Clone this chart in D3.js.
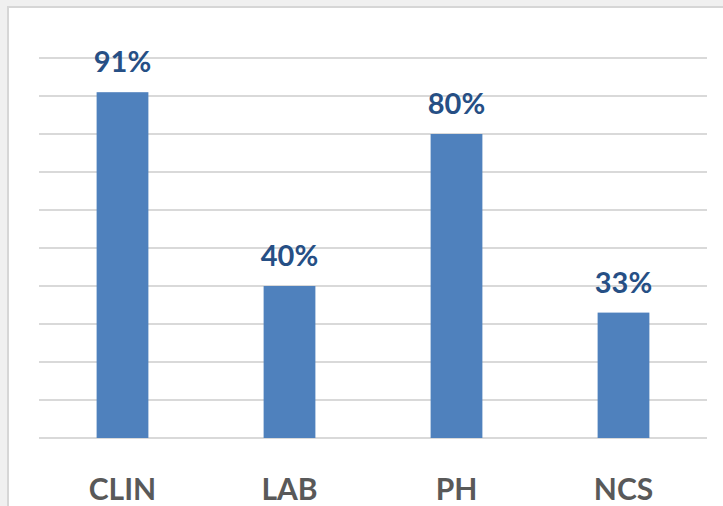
<!DOCTYPE html>
<html>
<head>
<meta charset="utf-8">
<script src="https://cdn.jsdelivr.net/npm/d3@7"></script>
<style>
  body { margin: 0; background: #f0f0f0; }
</style>
</head>
<body>
<div id="chart-area"></div>
<script>
var categories = ["CLIN", "LAB", "PH", "NCS"];
var values = [0.91, 0.40, 0.80, 0.33];
var gridTicks = [0, 0.1, 0.2, 0.3, 0.4, 0.5, 0.6, 0.7, 0.8, 0.9, 1.0];

var width = 723, height = 506;

var svg = d3.select("#chart-area")
	.append("svg")
		.attr("width", width)
		.attr("height", height)
		.style("display", "block");

// page frame
svg.append("rect")
	.attr("x", 0).attr("y", 0)
	.attr("width", width).attr("height", height)
	.attr("fill", "#f0f0f0");
svg.append("rect")
	.attr("x", 8).attr("y", 7)
	.attr("width", width).attr("height", height)
	.attr("fill", "#ffffff")
	.attr("stroke", "#d6d6d6")
	.attr("stroke-width", 2);

var x = d3.scaleBand()
	.domain(categories)
	.range([39, 707])
	.paddingInner(0.69)
	.paddingOuter(0.345);

var y = d3.scaleLinear()
	.domain([0, 1])
	.range([438, 58]);

svg.append("g")
	.attr("class", "grid")
	.selectAll("line")
	.data(gridTicks)
	.enter()
	.append("line")
		.attr("x1", 39)
		.attr("x2", 707)
		.attr("y1", (d) => { return y(d); })
		.attr("y2", (d) => { return y(d); })
		.attr("stroke", "#d9d9d9")
		.attr("stroke-width", 2);

svg.selectAll("rect.bar")
	.data(values)
	.enter()
	.append("rect")
		.attr("class", "bar")
		.attr("x", (d, i) => { return x(categories[i]); })
		.attr("y", (d) => { return y(d); })
		.attr("width", x.bandwidth())
		.attr("height", (d) => { return y(0) - y(d); })
		.attr("fill", "#4f81bd");

svg.selectAll("text.value")
	.data(values)
	.enter()
	.append("text")
		.attr("class", "value")
		.attr("x", (d, i) => { return x(categories[i]) + x.bandwidth() / 2; })
		.attr("y", (d) => { return y(d) - 20; })
		.attr("text-anchor", "middle")
		.attr("font-family", "Lato, 'Open Sans', sans-serif")
		.attr("font-weight", "bold")
		.attr("font-size", "29px")
		.attr("fill", "#264f85")
		.text((d) => { return Math.round(d * 100) + "%"; });

svg.selectAll("text.cat")
	.data(categories)
	.enter()
	.append("text")
		.attr("class", "cat")
		.attr("x", (d) => { return x(d) + x.bandwidth() / 2; })
		.attr("y", 500)
		.attr("text-anchor", "middle")
		.attr("font-family", "Lato, 'Open Sans', sans-serif")
		.attr("font-weight", "bold")
		.attr("font-size", "30px")
		.attr("fill", "#595959")
		.text((d) => { return d; });
</script>
</body>
</html>
